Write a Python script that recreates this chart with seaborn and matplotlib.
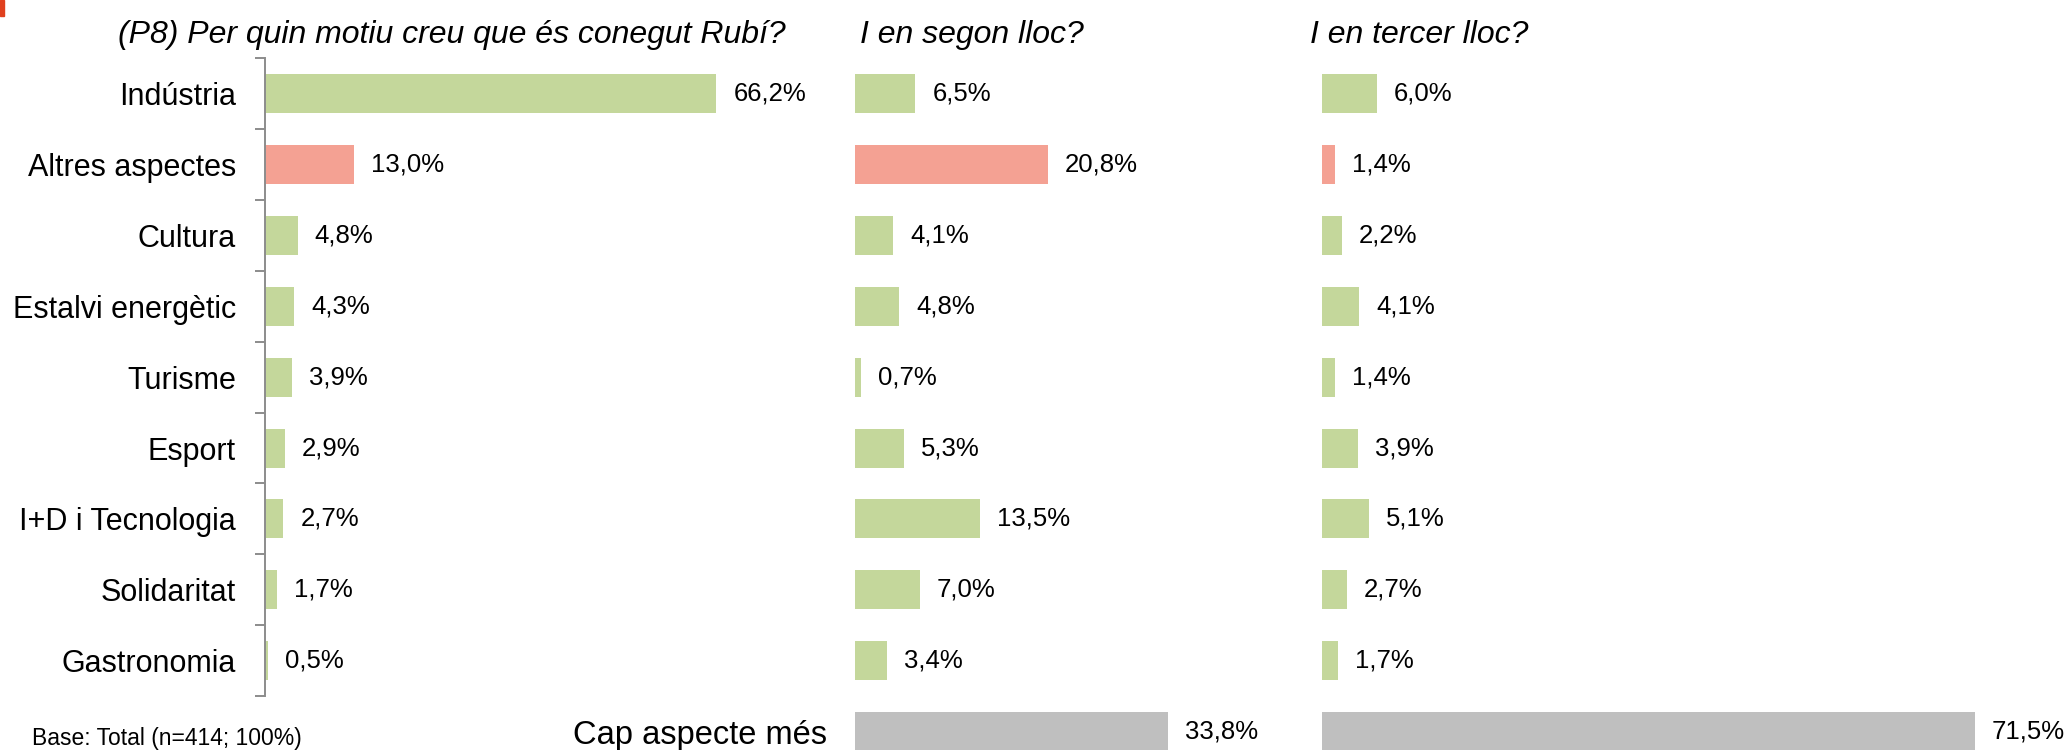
import matplotlib
matplotlib.use("Agg")
import matplotlib.pyplot as plt
import seaborn as sns
import pandas as pd
from matplotlib.patches import Rectangle

# ---------------- data ----------------
categories = ["Indústria", "Altres aspectes", "Cultura", "Estalvi energètic",
              "Turisme", "Esport", "I+D i Tecnologia", "Solidaritat", "Gastronomia"]
cap_label = "Cap aspecte més"
first_values = [66.2, 13.0, 4.8, 4.3, 3.9, 2.9, 2.7, 1.7, 0.5]
second_values = [6.5, 20.8, 4.1, 4.8, 0.7, 5.3, 13.5, 7.0, 3.4, 33.8]
third_values = [6.0, 1.4, 2.2, 4.1, 1.4, 3.9, 5.1, 2.7, 1.7, 71.5]

title_1 = "(P8) Per quin motiu creu que és conegut Rubí?"
title_2 = "I en segon lloc?"
title_3 = "I en tercer lloc?"
base_note = "Base: Total (n=414; 100%)"

GREEN = "#C4D79B"
SALMON = "#F4A193"
GREY = "#BFBFBF"
palette = {c: GREEN for c in categories}
palette["Altres aspectes"] = SALMON
palette[cap_label] = GREY

# ---------------- style ----------------
sns.set_style("white")
plt.rcParams["font.family"] = ["Liberation Sans", "DejaVu Sans"]
plt.rcParams["text.color"] = "black"
plt.rcParams["ytick.color"] = "black"
plt.rcParams["ytick.labelcolor"] = "black"

W, H = 2069, 750
fig = plt.figure(figsize=(W / 100, H / 100), dpi=100)
fig.patch.set_facecolor("white")

PT = 72 / 100  # points per pixel
YLIM = (9.259, -1.319)
BAR_H = 0.55
AXIS_GREY = "#8C8C8C"


def add_panel(left_px, width_px, px_per_unit):
    ax = fig.add_axes([left_px / W, 0, width_px / W, 1])
    ax.set_xlim(0, width_px / px_per_unit)
    return ax


def fmt(v):
    return f"{v:.1f}".replace(".", ",") + "%"


def draw(ax, cats, vals):
    df = pd.DataFrame({"cat": cats, "val": vals})
    sns.barplot(data=df, y="cat", x="val", hue="cat", order=cats,
                hue_order=cats, palette=palette, orient="h",
                width=BAR_H, legend=False, ax=ax, saturation=1,
                linewidth=0)
    ax.set_ylim(*YLIM)
    ax.set_xlabel("")
    ax.set_ylabel("")
    ax.set_xticks([])
    for cont in ax.containers:
        labels = [fmt(b.get_width()) for b in cont]
        ax.bar_label(cont, labels=labels, padding=17 * PT,
                     fontsize=18.5, color="black")
    for s in ["top", "right", "bottom", "left"]:
        ax.spines[s].set_visible(False)


# Panel 1
ax1 = add_panel(265, 700, 6.82)
draw(ax1, categories, first_values)
ax1.spines["left"].set_visible(True)
ax1.spines["left"].set_color(AXIS_GREY)
ax1.spines["left"].set_linewidth(1.4)
ax1.spines["left"].set_bounds(-0.5, len(categories) - 0.5)
ax1.set_yticks(range(len(categories)))
ax1.set_yticklabels(categories, fontsize=22, color="black")
ax1.tick_params(axis="y", which="major", left=True, length=0, pad=29 * PT,
                labelcolor="black")
ax1.set_yticks([i - 0.5 for i in range(len(categories) + 1)], minor=True)
ax1.tick_params(axis="y", which="minor", left=True, length=10 * PT,
                width=1.4, color=AXIS_GREY, direction="out")

# Panel 2
cats2 = categories + [cap_label]
ax2 = add_panel(855, 420, 9.27)
draw(ax2, cats2, second_values)
ax2.set_yticks([len(cats2) - 1])
ax2.set_yticklabels([cap_label], fontsize=23.5, color="black")
ax2.tick_params(axis="y", length=0, pad=28 * PT, labelcolor="black")

# Panel 3
ax3 = add_panel(1322, 700, 9.13)
draw(ax3, cats2, third_values)
ax3.set_yticks([])

# Titles and notes
def ftext(x_px, y_px, s, **kw):
    fig.text(x_px / W, 1 - y_px / H, s, color="black", **kw)

ftext(118, 43, title_1, fontsize=23, style="italic", va="baseline", ha="left")
ftext(860, 43, title_2, fontsize=23, style="italic", va="baseline", ha="left")
ftext(1310, 43, title_3, fontsize=23, style="italic", va="baseline", ha="left")
ftext(32, 738, base_note, fontsize=16.5, va="center", ha="left")

# small red corner mark
fig.patches.append(Rectangle((0, 1 - 16 / H), 4 / W, 16 / H,
                             transform=fig.transFigure, color="#E0401E",
                             zorder=10))

fig.savefig("out.png", dpi=100, facecolor="white")
